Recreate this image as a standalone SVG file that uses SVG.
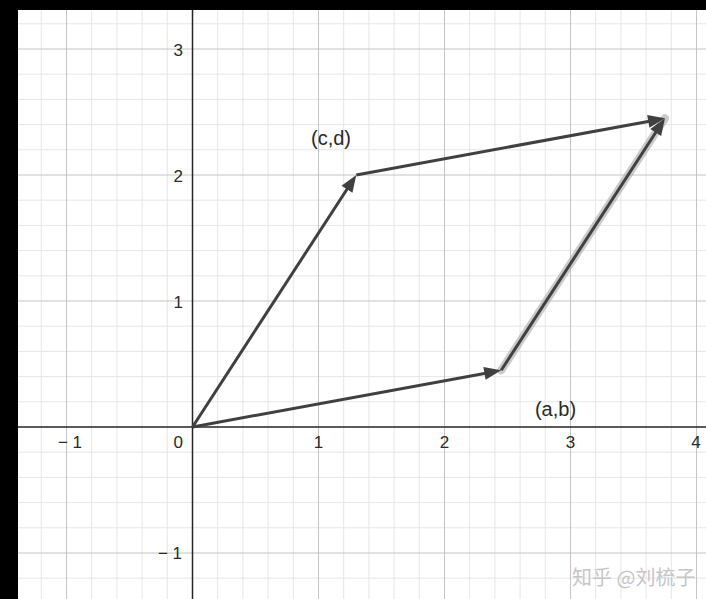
<svg xmlns="http://www.w3.org/2000/svg" width="706" height="599" viewBox="0 0 706 599">
<style>
.minor{stroke:#e6e6e6;stroke-width:1;fill:none}
.major{stroke:#c4c4c4;stroke-width:1;fill:none}
.axis{stroke:#262626;stroke-width:1.5;fill:none}
.num{font-family:"Liberation Sans",Arial,sans-serif;font-size:17px;fill:#2a2a2a}
.lbl{font-family:"Liberation Sans",Arial,sans-serif;font-size:20px;fill:#2a2a2a}
.vec{stroke:#404040;stroke-width:3;fill:none;marker-end:url(#ah)}
.wm{font-family:"Noto Sans CJK SC","Liberation Sans",sans-serif;font-size:20px;fill:#c6c6c6}
</style>
<defs>
<marker id="ah" markerUnits="userSpaceOnUse" viewBox="-13 -8 21 16" markerWidth="21" markerHeight="16" refX="0" refY="0" orient="auto">
<path d="M-11,-6.5 L6,0 L-11,6.5 z" fill="#404040"/>
</marker>
</defs>
<rect x="0" y="0" width="706" height="599" fill="#ffffff"/>
<g id="grid">
<path class="minor" d="M41.3,0V599M91.7,0V599M116.9,0V599M142.1,0V599M167.3,0V599M217.7,0V599M242.9,0V599M268.1,0V599M293.3,0V599M343.7,0V599M368.9,0V599M394.1,0V599M419.3,0V599M469.7,0V599M494.9,0V599M520.1,0V599M545.3,0V599M595.7,0V599M620.9,0V599M646.1,0V599M671.3,0V599"/>
<path class="minor" d="M0,23.8H706M0,74.2H706M0,99.4H706M0,124.6H706M0,149.8H706M0,200.2H706M0,225.4H706M0,250.6H706M0,275.8H706M0,326.2H706M0,351.4H706M0,376.6H706M0,401.8H706M0,452.2H706M0,477.4H706M0,502.6H706M0,527.8H706M0,578.2H706"/>
<path class="major" d="M66.5,0V599M318.5,0V599M444.5,0V599M570.5,0V599M696.5,0V599M0,49H706M0,175H706M0,301H706M0,553H706"/>
<path class="axis" d="M192.5,0V599M0,427H706"/>
</g>
<g id="axis-labels">
<text class="num" x="183" y="56" text-anchor="end">3</text>
<text class="num" x="183" y="182" text-anchor="end">2</text>
<text class="num" x="183" y="308" text-anchor="end">1</text>
<text class="num" x="183" y="448" text-anchor="end">0</text>
<text class="num" x="182" y="559" text-anchor="end">−  1</text>
<text class="num" x="82" y="448" text-anchor="end">−  1</text>
<text class="num" x="318.5" y="448" text-anchor="middle">1</text>
<text class="num" x="444.5" y="448" text-anchor="middle">2</text>
<text class="num" x="570.5" y="448" text-anchor="middle">3</text>
<text class="num" x="696" y="448" text-anchor="middle">4</text>
</g>
<g id="connectors">
<line x1="501.2" y1="370.3" x2="665" y2="118.3" stroke="#a8a8a8" stroke-opacity="0.6" stroke-width="8" stroke-linecap="round"/>
<line class="vec" x1="192.5" y1="427" x2="495.3" y2="371.4"/>
<line class="vec" x1="192.5" y1="427" x2="353.0" y2="180.0"/>
<line class="vec" x1="356.3" y1="175" x2="659.1" y2="119.4"/>
<line class="vec" x1="501.2" y1="370.3" x2="661.7" y2="123.3"/>
</g>
<g id="node-cd">
<text class="lbl" x="331" y="145" text-anchor="middle">(c,d)</text>
</g>
<g id="node-ab">
<text class="lbl" x="555.5" y="416" text-anchor="middle">(a,b)</text>
</g>
<text class="wm" x="572" y="585">知乎 @刘梳子</text>
<rect x="0" y="0" width="706" height="10" fill="#000"/>
<rect x="0" y="0" width="18" height="599" fill="#000"/>
</svg>
